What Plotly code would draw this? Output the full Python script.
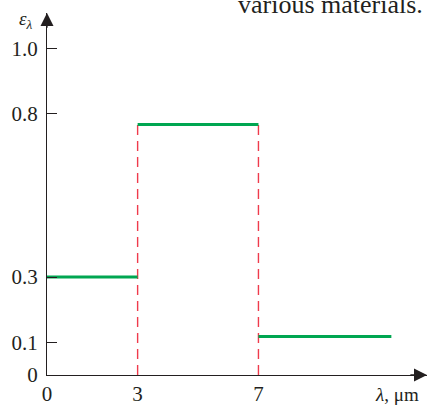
import plotly.graph_objects as go

# data
x_breaks = [0, 3, 7, 11.4]          # wavelength breakpoints, µm
eps_vals = [0.3, 0.767, 0.118]      # emissivity in each band
y_ticks = [0, 0.1, 0.3, 0.8, 1.0]
y_tick_text = ["0", "0.1", "0.3", "0.8", "1.0"]
x_ticks = [0, 3, 7]
x_tick_text = ["0", "3", "7"]

X_MAX = 12.58
Y_MAX = 1.1087
FONT = "Liberation Serif, Times New Roman, serif"
GREEN = "#00a651"
RED = "#ef3b4c"
AXC = "#231f20"

fig = go.Figure()

# red dashed dividers
for xb, top in [(x_breaks[1], eps_vals[1]), (x_breaks[2], eps_vals[1])]:
    fig.add_trace(go.Scatter(x=[xb, xb], y=[0, top], mode="lines",
                             line=dict(color=RED, width=1.4, dash="10px,6px"),
                             hoverinfo="skip", showlegend=False))

# green step segments
gx, gy = [], []
for i, v in enumerate(eps_vals):
    gx += [x_breaks[i], x_breaks[i + 1], None]
    gy += [v, v, None]
fig.add_trace(go.Scatter(x=gx, y=gy, mode="lines",
                         line=dict(color=GREEN, width=3),
                         hoverinfo="skip", showlegend=False))

fig.update_layout(
    width=428, height=405,
    margin=dict(l=47, r=1, t=13, b=30),
    paper_bgcolor="white", plot_bgcolor="white",
    font=dict(family=FONT, size=21, color=AXC),
    xaxis=dict(range=[0, X_MAX], showgrid=False, zeroline=False,
               showline=True, linecolor=AXC, linewidth=1.3,
               tickvals=x_ticks, ticktext=x_tick_text, ticks="",
               ticklabelstandoff=0, automargin=False, fixedrange=True),
    yaxis=dict(range=[0, Y_MAX], showgrid=False, zeroline=False,
               showline=True, linecolor=AXC, linewidth=1.3,
               tickvals=y_ticks, ticktext=y_tick_text, ticks="inside",
               ticklen=10, tickwidth=1.2, tickcolor=AXC,
               ticklabelstandoff=4, automargin=False, fixedrange=True),
)

# axis arrowheads
fig.add_annotation(x=0, y=Y_MAX, ax=0, ay=Y_MAX - 0.05, xref="x", yref="y",
                   axref="x", ayref="y", showarrow=True, arrowhead=2,
                   arrowsize=2, arrowwidth=1.3, arrowcolor=AXC, text="")
fig.add_annotation(x=X_MAX, y=0, ax=X_MAX - 0.6, ay=0, xref="x", yref="y",
                   axref="x", ayref="y", showarrow=True, arrowhead=2,
                   arrowsize=2, arrowwidth=1.3, arrowcolor=AXC, text="")

# axis titles (paper coords span the plot area: x 47..427, y 375..13 px)
fig.add_annotation(x=-0.055, y=0.981, xref="paper", yref="paper",
                   text="<i>ε</i><sub><i>λ</i></sub>", showarrow=False,
                   font=dict(family=FONT, size=19, color=AXC),
                   xanchor="center", yanchor="middle")
fig.add_annotation(x=0.984, y=-0.0525, xref="paper", yref="paper",
                   text="<i>λ</i>, μm", showarrow=False,
                   font=dict(family=FONT, size=19, color=AXC),
                   xanchor="right", yanchor="middle")

# cropped caption at the top
fig.add_annotation(x=0.9947, y=0.978, xref="paper", yref="paper",
                   text="various materials.", showarrow=False,
                   font=dict(family=FONT, size=26, color=AXC),
                   xanchor="right", yanchor="bottom")

fig.write_html("out.html", config={"displayModeBar": False},
               post_script="document.body.style.margin='0px';"
                           "document.body.style.overflow='hidden';")
